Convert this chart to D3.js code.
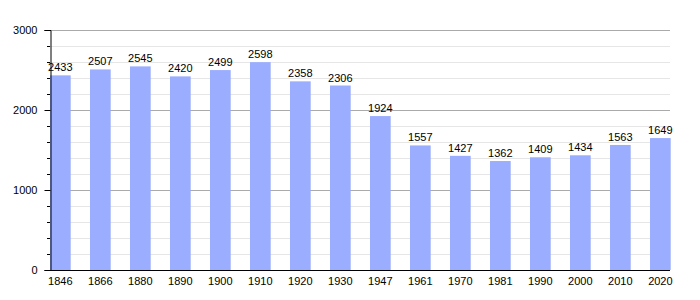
<!DOCTYPE html>
<html>
<head>
<meta charset="utf-8">
<script src="https://cdn.jsdelivr.net/npm/d3@7"></script>
<style>
body{margin:0;background:#fff;}
text{font-family:"Liberation Sans",Arial,sans-serif;}
</style>
</head>
<body>
<svg class="chart"></svg>
<script>
var years = ["1846","1866","1880","1890","1900","1910","1920","1930","1947","1961","1970","1981","1990","2000","2010","2020"];
var population = [2433,2507,2545,2420,2499,2598,2358,2306,1924,1557,1427,1362,1409,1434,1563,1649];
var yTicks = [0,1000,2000,3000];

var width = 700, height = 300;
var plotLeft = 50, plotRight = 670.7, plotTop = 30, plotBottom = 270;

var chart = d3.select(".chart").attr("width", width).attr("height", height);

var x = d3.scaleBand().domain(years).range([plotLeft, plotRight]).paddingInner(0.483).paddingOuter(0);
var y = d3.scaleLinear().domain([0, 3000]).range([plotBottom, plotTop]);

// minor grid every 200
var minor = d3.range(200, 3000, 200).filter(function(d){ return d % 1000 != 0; });
chart.selectAll(".minor").data(minor).enter().append("line")
    .attr("x1", plotLeft).attr("x2", 670)
    .attr("y1", function(d){ return Math.round(y(d)) + 0.5; })
    .attr("y2", function(d){ return Math.round(y(d)) + 0.5; })
    .attr("stroke", "#e6e6e6").attr("stroke-width", 1);

// major grid
chart.selectAll(".major").data(yTicks.slice(1)).enter().append("line")
    .attr("x1", plotLeft).attr("x2", 670)
    .attr("y1", function(d){ return Math.round(y(d)) + 0.5; })
    .attr("y2", function(d){ return Math.round(y(d)) + 0.5; })
    .attr("stroke", "#aaaaaa").attr("stroke-width", 1);

// bars
chart.selectAll(".bar").data(population).enter().append("rect")
    .attr("x", function(d, i){ return x(years[i]); })
    .attr("y", function(d){ return y(d); })
    .attr("width", x.bandwidth())
    .attr("height", function(d){ return plotBottom - y(d); })
    .attr("fill", "#9aadff");

// value labels
chart.selectAll(".val").data(population).enter().append("text")
    .attr("x", function(d, i){ return x(years[i]) + x.bandwidth()/2; })
    .attr("y", function(d){ return y(d) - 4; })
    .attr("text-anchor", "middle")
    .attr("font-size", "11px")
    .attr("fill", "#000")
    .text(function(d){ return d; });

// y axis
var yAxis = d3.axisLeft(y).tickValues(yTicks).tickSize(6).tickPadding(7).tickFormat(d3.format("d"));
var ya = chart.append("g").attr("transform", "translate(" + (plotLeft + 0.5) + ",0)").call(yAxis);
ya.select(".domain").attr("stroke", "#000");
ya.selectAll("text").attr("font-size", "11px").attr("fill", "#000").style("font-family", "Liberation Sans, Arial, sans-serif");

// minor ticks
chart.selectAll(".mtick").data(minor).enter().append("line")
    .attr("x1", plotLeft - 3).attr("x2", plotLeft)
    .attr("y1", function(d){ return Math.round(y(d)) + 0.5; })
    .attr("y2", function(d){ return Math.round(y(d)) + 0.5; })
    .attr("stroke", "#000");

// x axis
var xAxis = d3.axisBottom(x).tickSize(0).tickPadding(7);
var xa = chart.append("g").attr("transform", "translate(0," + (plotBottom + 0.5) + ")").call(xAxis);
xa.select(".domain").attr("stroke", "#000").attr("d", "M" + plotLeft + ",0H670");
xa.selectAll("text").attr("font-size", "11px").attr("fill", "#000").style("font-family", "Liberation Sans, Arial, sans-serif");
</script>
</body>
</html>
